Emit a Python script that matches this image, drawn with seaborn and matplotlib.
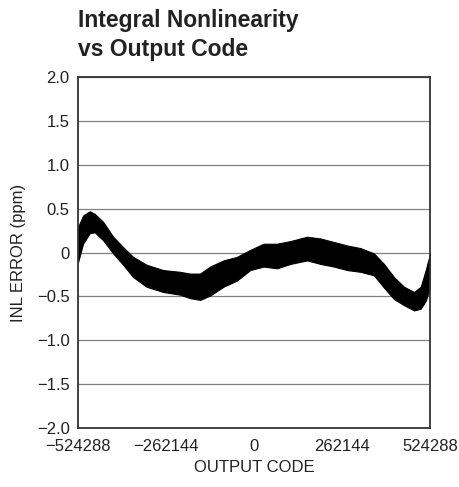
import numpy as np
import pandas as pd
import matplotlib
matplotlib.use('Agg')
import matplotlib.pyplot as plt
import seaborn as sns

# envelope of the INL band: code, upper edge, lower edge (ppm)
codes = [-524288, -509352, -489431, -474498, -449613, -419743, -389873, -360003,
         -320188, -270393, -220603, -190650, -160800, -130900, -91100, -51300,
         -11400, 28300, 68100, 108100, 157900, 197670, 237487, 277333,
         317150, 356967, 386837, 416707, 446577, 476447, 496370, 511305, 524288]
inl_upper = [0.29, 0.42, 0.47, 0.44, 0.35, 0.18, 0.06, -0.05,
             -0.14, -0.20, -0.22, -0.24, -0.24, -0.16, -0.09, -0.05,
             0.03, 0.10, 0.10, 0.13, 0.18, 0.16, 0.12, 0.08,
             0.05, -0.01, -0.13, -0.28, -0.39, -0.45, -0.39, -0.20, -0.01]
inl_lower = [-0.11, 0.10, 0.22, 0.23, 0.14, -0.01, -0.14, -0.28,
             -0.39, -0.45, -0.48, -0.52, -0.54, -0.49, -0.39, -0.32,
             -0.20, -0.16, -0.18, -0.13, -0.09, -0.13, -0.16, -0.20,
             -0.22, -0.26, -0.40, -0.53, -0.60, -0.66, -0.64, -0.55, -0.40]

x_ticks = [-524288, -262144, 0, 262144, 524288]
x_tick_labels = ['\u2212524288', '\u2212262144', '0', '262144', '524288']
y_ticks = [-2.0, -1.5, -1.0, -0.5, 0, 0.5, 1.0, 1.5, 2.0]
y_tick_labels = ['\u22122.0', '\u22121.5', '\u22121.0', '\u22120.5', '0',
                 '0.5', '1.0', '1.5', '2.0']

sns.set_style('white')
plt.rcParams['font.family'] = ['Liberation Sans', 'DejaVu Sans']

# long form: each code carries its upper and lower value, seaborn's 100% interval fills the band
df = pd.DataFrame({
    'code': codes + codes,
    'inl': inl_upper + inl_lower,
})

fig = plt.figure(figsize=(4.59, 4.87), dpi=100)
ax = fig.add_axes([0.170, 0.121, 0.767, 0.721])

sns.lineplot(data=df, x='code', y='inl', estimator='mean', errorbar=('pi', 100),
             color='black', linewidth=1.0, err_kws={'alpha': 1.0, 'linewidth': 0.8,
                                                    'edgecolor': 'black'}, ax=ax)

ax.set_xlim(-524288, 524288)
ax.set_ylim(-2.0, 2.0)
ax.set_xticks(x_ticks)
ax.set_xticklabels(x_tick_labels, fontsize=12)
ax.set_yticks(y_ticks)
ax.set_yticklabels(y_tick_labels, fontsize=12)
ax.tick_params(axis='x', length=0, pad=8, colors='#222222')
ax.tick_params(axis='y', length=0, pad=6, colors='#222222')
ax.yaxis.grid(True, color='#808080', linewidth=0.9)
ax.set_axisbelow(True)
for s in ax.spines.values():
    s.set_color('#333333')
    s.set_linewidth(1.3)

ax.set_xlabel('OUTPUT CODE', fontsize=12, color='#222222', labelpad=4)
ax.set_ylabel('INL ERROR (ppm)', fontsize=12, color='#222222', labelpad=8)

fig.text(0.170, 0.982, 'Integral Nonlinearity\nvs Output Code', fontsize=16.5,
         fontweight='bold', color='#222222', va='top', ha='left', linespacing=1.35)

fig.savefig('out.png', dpi=100)
